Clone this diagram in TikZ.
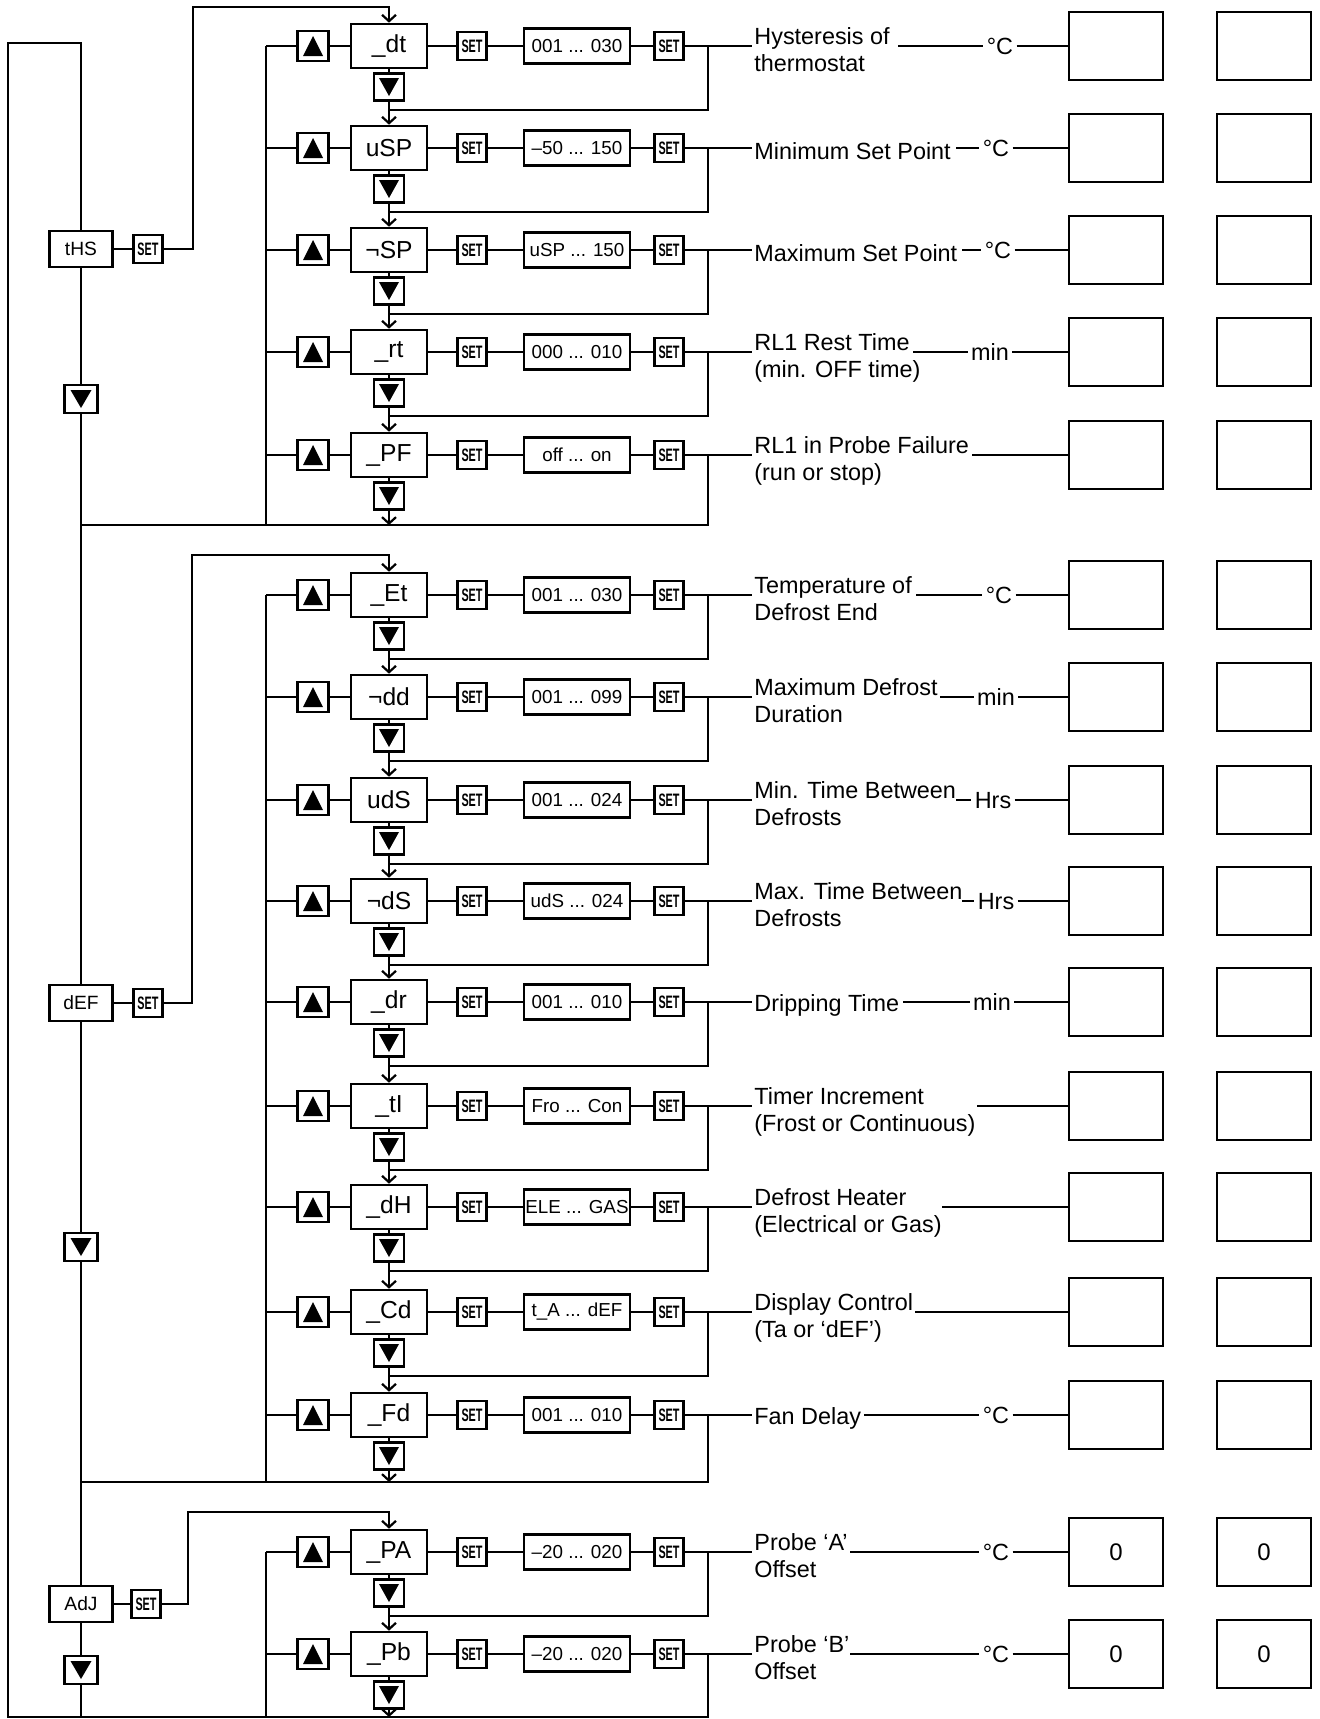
\documentclass[tikz,border=0pt]{standalone}
\usepackage{fontspec}
\usepackage{graphicx}
\setmainfont{Liberation Sans}
\usetikzlibrary{arrows.meta}
\newcommand\settxt{\scalebox{0.6}[1]{SET}}
\newcommand\prow[5]{%
  \coordinate (bus#1) at (266,#2);
  \node[upb] (u#1) at (313,#2) {};
  \node[param] (p#1) at (389,#2) {#3};
  \node[dnb] (d#1) at (389,#2+41) {};
  \node[setb] (sa#1) at (472,#2) {\settxt};
  \node[rng] (r#1) at (577,#2) {#4};
  \node[setb] (sb#1) at (669,#2) {\settxt};
  \coordinate (j#1) at (708,#2);
  \coordinate (m#1) at (389,#2+64);
  \coordinate (c#1) at (708,#2+64);
  \node[res] (x#1) at (1116,#2) {#5};
  \node[res] (y#1) at (1264,#2) {#5};
  \draw[ln] (bus#1) -- (u#1) -- (p#1) -- (sa#1) -- (r#1) -- (sb#1) -- (j#1);
  \draw[ln] (p#1) -- (d#1);
}
\newcommand\plink[2]{%
  \draw[ln] (d#1) -- (m#1);
  \draw[ln] (j#1) -- (c#1) -- (m#1);
  \draw[arr] (m#1) -- (p#2);
}
\begin{document}
\begin{tikzpicture}[x=0.5pt,y=-0.5pt,
  ln/.style={line width=1.1pt},
  arr/.style={line width=1.1pt,-{Straight Barb[length=3.2pt,width=7pt]}},
  bx/.style={draw,line width=1.3pt,inner sep=0pt},
  param/.style={bx,minimum width=38pt,minimum height=22pt,font=\fontsize{12.3}{14}\selectfont},
  setb/.style={bx,minimum width=14.5pt,minimum height=14pt,font=\fontsize{9}{10}\selectfont\bfseries},
  rng/.style={bx,minimum width=53pt,minimum height=17.5pt,font=\fontsize{9.4}{11}\selectfont},
  menu/.style={bx,minimum width=31.5pt,minimum height=18pt,font=\fontsize{9.6}{11}\selectfont},
  res/.style={bx,minimum width=47pt,minimum height=34pt,font=\fontsize{12}{14}\selectfont},
  upb/.style={bx,minimum width=15.5pt,minimum height=15pt,
    path picture={\fill ([shift={(-5pt,-5pt)}]path picture bounding box.center) -- ++(10pt,0pt) -- ([shift={(0pt,5pt)}]path picture bounding box.center) -- cycle;}},
  dnb/.style={bx,minimum width=15pt,minimum height=13.5pt,
    path picture={\fill ([shift={(-5pt,4.5pt)}]path picture bounding box.center) -- ++(10pt,0pt) -- ([shift={(0pt,-4.5pt)}]path picture bounding box.center) -- cycle;}},
  mdn/.style={bx,minimum width=16.5pt,minimum height=14pt,
    path picture={\fill ([shift={(-5.25pt,4.5pt)}]path picture bounding box.center) -- ++(10.5pt,0pt) -- ([shift={(0pt,-4.5pt)}]path picture bounding box.center) -- cycle;}},
  lbl/.style={inner sep=1pt,font=\fontsize{11.7}{13.5}\selectfont},
  unit/.style={inner sep=1.5pt,text height=8.4pt,text depth=0pt,font=\fontsize{11.7}{13.5}\selectfont}
]
\fill[white] (0,0) rectangle (1319,1719);
\useasboundingbox (0,0) rectangle (1319,1719);

% ---------- menu column ----------
\node[menu] (ths) at (81,249) {tHS};
\node[setb] (thss) at (148,249) {\settxt};
\node[mdn] (thsd) at (81,399) {};
\node[menu] (def) at (81,1003) {dEF};
\node[setb] (defs) at (148,1003) {\settxt};
\node[mdn] (defd) at (81,1247) {};
\node[menu] (adj) at (81,1604) {AdJ};
\node[setb] (adjs) at (146,1604) {\settxt};
\node[mdn] (adjd) at (81,1670) {};

% ---------- parameter rows ----------
\prow{1}{46}{\_dt}{001 ... 030}{}
\prow{2}{148}{uSP}{–50 ... 150}{}
\prow{3}{250}{¬SP}{uSP ... 150}{}
\prow{4}{352}{\_rt}{000 ... 010}{}
\prow{5}{455}{\_PF}{off ... on}{}
\prow{6}{595}{\_Et}{001 ... 030}{}
\prow{7}{697}{¬dd}{001 ... 099}{}
\prow{8}{800}{udS}{001 ... 024}{}
\prow{9}{901}{¬dS}{udS ... 024}{}
\prow{10}{1002}{\_dr}{001 ... 010}{}
\prow{11}{1106}{\_tI}{Fro ... Con}{}
\prow{12}{1207}{\_dH}{ELE ... GAS}{}
\prow{13}{1312}{\_Cd}{t\_A ... dEF}{}
\prow{14}{1415}{\_Fd}{001 ... 010}{}
\prow{15}{1552}{\_PA}{–20 ... 020}{0}
\prow{16}{1654}{\_Pb}{–20 ... 020}{0}

\plink{1}{2}\plink{2}{3}\plink{3}{4}\plink{4}{5}
\plink{6}{7}\plink{7}{8}\plink{8}{9}\plink{9}{10}\plink{10}{11}\plink{11}{12}\plink{12}{13}\plink{13}{14}
\plink{15}{16}

% ---------- outer loop and column ----------
\coordinate (ctop) at (81,43);
\coordinate (otl) at (8,43);
\coordinate (obl) at (8,1717);
\coordinate (bend) at (708,1717);
\draw[ln] (ths) -- (ctop) -- (otl) -- (obl) -- (bend) -- (j16);
\draw[ln] (ths) -- (thsd) -- (def) -- (defd) -- (adj) -- (adjd);
\coordinate (bcol) at (81,1717);
\draw[ln] (adjd) -- (bcol);
\coordinate (bb3) at (266,1717);
\draw[ln] (bus15) -- (bb3);
\coordinate (ba3) at (389,1717);
\draw[arr] (d16) -- (ba3);

% section 1 closing line
\coordinate (s1l) at (81,525);
\coordinate (s1r) at (708,525);
\draw[ln] (s1l) -- (s1r) -- (j5);
\coordinate (bb1) at (266,525);
\draw[ln] (bus1) -- (bb1);
\coordinate (ba1) at (389,525);
\draw[arr] (d5) -- (ba1);

% section 2 closing line
\coordinate (s2l) at (81,1482);
\coordinate (s2r) at (708,1482);
\draw[ln] (s2l) -- (s2r) -- (j14);
\coordinate (bb2) at (266,1482);
\draw[ln] (bus6) -- (bb2);
\coordinate (ba2) at (389,1482);
\draw[arr] (d14) -- (ba2);

% feeds
\draw[ln] (ths) -- (thss);
\coordinate (f1a) at (193,249);
\coordinate (f1b) at (193,7);
\coordinate (f1c) at (389,7);
\draw[arr] (thss) -- (f1a) -- (f1b) -- (f1c) -- (p1);
\draw[ln] (def) -- (defs);
\coordinate (f2a) at (192,1003);
\coordinate (f2b) at (192,555);
\coordinate (f2c) at (389,555);
\draw[arr] (defs) -- (f2a) -- (f2b) -- (f2c) -- (p6);
\draw[ln] (adj) -- (adjs);
\coordinate (f3a) at (188,1604);
\coordinate (f3b) at (188,1512);
\coordinate (f3c) at (389,1512);
\draw[arr] (adjs) -- (f3a) -- (f3b) -- (f3c) -- (p15);

% ---------- descriptions ----------
% row 1
\node[lbl,anchor=base west] (t1) at (752,44) {Hysteresis of};
\node[lbl,anchor=base west] (t1b) at (752,71) {thermostat};
\draw[ln] (j1) -- (t1.west |- j1);
\coordinate (ls1) at (898,46);
\node[unit] (n1) at (1000,46) {°C};
\draw[ln] (ls1) -- (n1); \draw[ln] (n1) -- (x1);
% row 2
\node[lbl,anchor=base west] (t2) at (752,159) {Minimum Set Point};
\draw[ln] (j2) -- (t2.west |- j2);
\coordinate (ls2) at (956,148);
\node[unit] (n2) at (996,148) {°C};
\draw[ln] (ls2) -- (n2); \draw[ln] (n2) -- (x2);
% row 3
\node[lbl,anchor=base west] (t3) at (752,261) {Maximum Set Point};
\draw[ln] (j3) -- (t3.west |- j3);
\coordinate (ls3) at (962,250);
\node[unit] (n3) at (998,250) {°C};
\draw[ln] (ls3) -- (n3); \draw[ln] (n3) -- (x3);
% row 4
\node[lbl,anchor=base west] (t4) at (752,350) {RL1 Rest Time};
\node[lbl,anchor=base west] (t4b) at (752,377) {(min. OFF time)};
\draw[ln] (j4) -- (t4.west |- j4);
\coordinate (ls4) at (913,352);
\node[unit] (n4) at (990,352) {min};
\draw[ln] (ls4) -- (n4); \draw[ln] (n4) -- (x4);
% row 5
\node[lbl,anchor=base west] (t5) at (752,453) {RL1 in Probe Failure};
\node[lbl,anchor=base west] (t5b) at (752,480) {(run or stop)};
\draw[ln] (j5) -- (t5.west |- j5);
\coordinate (ls5) at (972,455);
\draw[ln] (ls5) -- (x5);
% row 6
\node[lbl,anchor=base west] (t6) at (752,593) {Temperature of};
\node[lbl,anchor=base west] (t6b) at (752,620) {Defrost End};
\draw[ln] (j6) -- (t6.west |- j6);
\coordinate (ls6) at (916,595);
\node[unit] (n6) at (999,595) {°C};
\draw[ln] (ls6) -- (n6); \draw[ln] (n6) -- (x6);
% row 7
\node[lbl,anchor=base west] (t7) at (752,695) {Maximum Defrost};
\node[lbl,anchor=base west] (t7b) at (752,722) {Duration};
\draw[ln] (j7) -- (t7.west |- j7);
\coordinate (ls7) at (940,697);
\node[unit] (n7) at (996,697) {min};
\draw[ln] (ls7) -- (n7); \draw[ln] (n7) -- (x7);
% row 8
\node[lbl,anchor=base west] (t8) at (752,798) {Min. Time Between};
\node[lbl,anchor=base west] (t8b) at (752,825) {Defrosts};
\draw[ln] (j8) -- (t8.west |- j8);
\coordinate (ls8) at (956,800);
\node[unit] (n8) at (993,800) {Hrs};
\draw[ln] (ls8) -- (n8); \draw[ln] (n8) -- (x8);
% row 9
\node[lbl,anchor=base west] (t9) at (752,899) {Max. Time Between};
\node[lbl,anchor=base west] (t9b) at (752,926) {Defrosts};
\draw[ln] (j9) -- (t9.west |- j9);
\coordinate (ls9) at (962,901);
\node[unit] (n9) at (996,901) {Hrs};
\draw[ln] (ls9) -- (n9); \draw[ln] (n9) -- (x9);
% row 10
\node[lbl,anchor=base west] (t10) at (752,1011) {Dripping Time};
\draw[ln] (j10) -- (t10.west |- j10);
\coordinate (ls10) at (903,1002);
\node[unit] (n10) at (992,1002) {min};
\draw[ln] (ls10) -- (n10); \draw[ln] (n10) -- (x10);
% row 11
\node[lbl,anchor=base west] (t11) at (752,1104) {Timer Increment};
\node[lbl,anchor=base west] (t11b) at (752,1131) {(Frost or Continuous)};
\draw[ln] (j11) -- (t11.west |- j11);
\coordinate (ls11) at (977,1106);
\draw[ln] (ls11) -- (x11);
% row 12
\node[lbl,anchor=base west] (t12) at (752,1205) {Defrost Heater};
\node[lbl,anchor=base west] (t12b) at (752,1232) {(Electrical or Gas)};
\draw[ln] (j12) -- (t12.west |- j12);
\coordinate (ls12) at (942,1207);
\draw[ln] (ls12) -- (x12);
% row 13
\node[lbl,anchor=base west] (t13) at (752,1310) {Display Control};
\node[lbl,anchor=base west] (t13b) at (752,1337) {(Ta or ‘dEF’)};
\draw[ln] (j13) -- (t13.west |- j13);
\coordinate (ls13) at (915,1312);
\draw[ln] (ls13) -- (x13);
% row 14
\node[lbl,anchor=base west] (t14) at (752,1424) {Fan Delay};
\draw[ln] (j14) -- (t14.west |- j14);
\coordinate (ls14) at (864,1415);
\node[unit] (n14) at (996,1415) {°C};
\draw[ln] (ls14) -- (n14); \draw[ln] (n14) -- (x14);
% row 15
\node[lbl,anchor=base west] (t15) at (752,1550) {Probe ‘A’};
\node[lbl,anchor=base west] (t15b) at (752,1577) {Offset};
\draw[ln] (j15) -- (t15.west |- j15);
\coordinate (ls15) at (850,1552);
\node[unit] (n15) at (996,1552) {°C};
\draw[ln] (ls15) -- (n15); \draw[ln] (n15) -- (x15);
% row 16
\node[lbl,anchor=base west] (t16) at (752,1652) {Probe ‘B’};
\node[lbl,anchor=base west] (t16b) at (752,1679) {Offset};
\draw[ln] (j16) -- (t16.west |- j16);
\coordinate (ls16) at (850,1654);
\node[unit] (n16) at (996,1654) {°C};
\draw[ln] (ls16) -- (n16); \draw[ln] (n16) -- (x16);
\end{tikzpicture}
\end{document}
